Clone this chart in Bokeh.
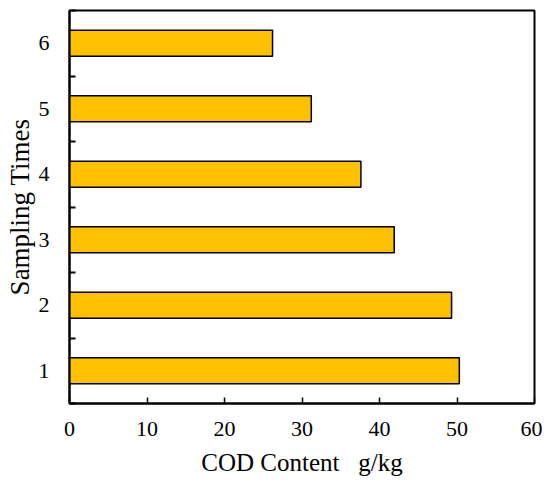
from bokeh.plotting import figure
from bokeh.models import Range1d, FixedTicker
from bokeh.embed import file_html
from bokeh.resources import INLINE

sampling_times = [1, 2, 3, 4, 5, 6]
cod_content = [50.3, 49.3, 41.9, 37.6, 31.2, 26.2]
x_ticks = [0, 10, 20, 30, 40, 50, 60]

FONT = "Liberation Serif"

p = figure(width=542, height=485, output_backend="svg", toolbar_location=None,
           x_range=Range1d(0, 60), y_range=Range1d(0.5, 6.5),
           min_border_left=69, min_border_right=8, min_border_top=10, min_border_bottom=82)

p.hbar(y=sampling_times, right=cod_content, left=0, height=0.4,
       fill_color="#FFC000", line_color="black", line_width=1.5)

p.xgrid.visible = False
p.ygrid.visible = False
p.outline_line_color = "black"
p.outline_line_width = 2
p.background_fill_color = "white"
p.border_fill_color = "white"

xa = p.xaxis[0]
xa.ticker = FixedTicker(ticks=x_ticks)
xa.major_tick_in = 6
xa.major_tick_out = 0
xa.minor_tick_in = 0
xa.minor_tick_out = 0
xa.axis_line_width = 2
xa.axis_line_color = "black"
xa.major_tick_line_width = 1.5
xa.major_tick_line_color = "black"
xa.major_label_text_color = "black"
xa.major_label_text_font = FONT
xa.major_label_text_font_size = "22px"
xa.major_label_standoff = 18
xa.axis_label = "COD Content\u00a0\u00a0\u00a0g/kg"
xa.axis_label_text_color = "black"
xa.axis_label_text_font = FONT
xa.axis_label_text_font_size = "25px"
xa.axis_label_text_font_style = "normal"
xa.axis_label_standoff = 10

ya = p.yaxis[0]
ya.ticker = FixedTicker(ticks=sampling_times, minor_ticks=[0.5, 1.5, 2.5, 3.5, 4.5, 5.5, 6.5])
ya.major_tick_in = 0
ya.major_tick_out = 0
ya.minor_tick_in = 6
ya.minor_tick_out = 0
ya.minor_tick_line_width = 2
ya.minor_tick_line_color = "black"
ya.axis_line_width = 2
ya.axis_line_color = "black"
ya.major_label_text_color = "black"
ya.major_label_text_font = FONT
ya.major_label_text_font_size = "22px"
ya.major_label_standoff = 20
ya.axis_label = "Sampling Times"
ya.axis_label_text_color = "black"
ya.axis_label_text_font = FONT
ya.axis_label_text_font_size = "27px"
ya.axis_label_text_font_style = "normal"
ya.axis_label_standoff = 1

open("out.html", "w").write(file_html(p, INLINE))
